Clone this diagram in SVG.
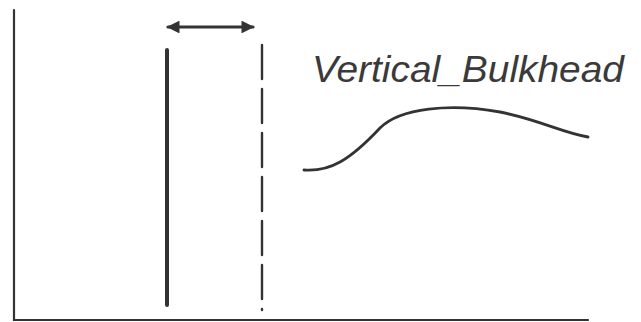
<svg xmlns="http://www.w3.org/2000/svg" width="641" height="322" viewBox="0 0 641 322">
<style>
.ln{stroke:#333;fill:none;stroke-linecap:round}
.lbl{font-family:"Liberation Sans",Arial,sans-serif;font-style:italic;font-size:36px;fill:#3a3a3a}
</style>
<defs>
<marker id="ah" viewBox="0 0 10 10" refX="9" refY="5" markerWidth="5" markerHeight="4" orient="auto-start-reverse" markerUnits="strokeWidth">
<path d="M0,0 L10,5 L0,10 Z" fill="#333"/>
</marker>
</defs>
<rect width="641" height="322" fill="#fff"/>
<g id="frame">
<path class="ln" d="M14,10 L14,320 L588,320" stroke-width="2.2"/>
</g>
<g id="bulkhead">
<path class="ln" d="M167,50 L167,305" stroke-width="4"/>
</g>
<g id="dashed">
<path class="ln" d="M262,45 L262,310" stroke-width="2.4" stroke-dasharray="34,10"/>
</g>
<g id="connectors">
<path class="ln" d="M168,27 L253,27" stroke-width="3.2" marker-start="url(#ah)" marker-end="url(#ah)"/>
</g>
<g id="curve">
<path class="ln" d="M304,170 C330,172 350,160 380,128 C400,108 450,103 500,112 C540,120 560,132 588,137" stroke-width="2.8"/>
</g>
<g id="label">
<text class="lbl" x="312" y="82" textLength="312" lengthAdjust="spacingAndGlyphs">Vertical_Bulkhead</text>
</g>
</svg>
